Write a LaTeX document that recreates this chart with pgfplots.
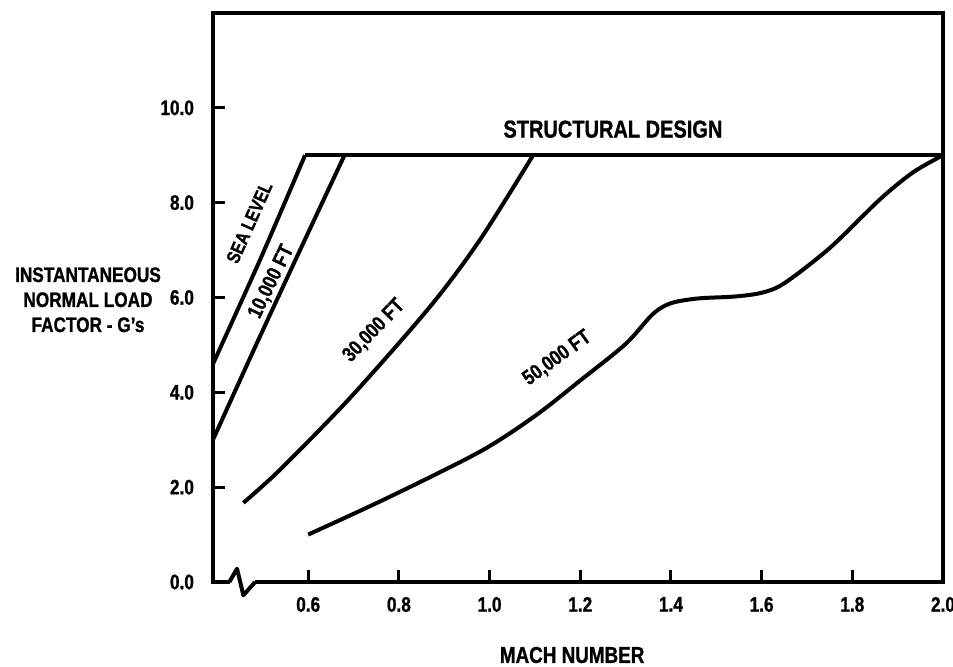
\documentclass[border=0pt]{standalone}
\usepackage{pgfplots}
\pgfplotsset{compat=1.18}
\usepackage{fontspec}
\setmainfont{Liberation Sans}[FakeStretch=0.82, BoldFeatures={FakeBold=1}]

\begin{document}
\begin{tikzpicture}
\begin{axis}[
    width=365pt, height=284.5pt, scale only axis,
    xmin=0.39, xmax=2.0, ymin=0, ymax=12,
    xtick={0.6,0.8,1.0,1.2,1.4,1.6,1.8,2.0},
    ytick={0,2,4,6,8,10},
    tick pos=left, tick align=inside,
    major tick length=6pt,
    tick style={black, line width=1.5pt},
    axis line style={line width=2pt},
    tick label style={font=\bfseries\fontsize{10.5}{10.5}\selectfont},
    yticklabel style={xshift=-6pt},
    xticklabel style={yshift=-4pt},
    /pgf/number format/.cd, fixed, fixed zerofill, precision=1, assume math mode=true,
    /pgfplots/.cd,
    clip=false,
  ]
% axis break on the x axis
\addplot[white, line width=4pt] coordinates {(0.428,0) (0.483,0)};
\addplot[black, line width=2pt, line join=round] coordinates {(0.426,0) (0.443,0.28) (0.457,-0.28) (0.483,0)};

% structural design limit
\addplot[black, line width=2pt] coordinates {(0.593,9.0) (2.0,9.0)};
% sea level
\addplot[black, line width=2pt, smooth] coordinates {(0.39,4.6) (0.494,6.8) (0.593,9.0)};
% 10,000 ft
\addplot[black, line width=2pt, smooth] coordinates {(0.39,3.0) (0.485,5.0) (0.582,7.0) (0.68,9.0)};
% 30,000 ft
\addplot[black, line width=2pt, smooth] coordinates {
  (0.457,1.67) (0.538,2.37) (0.693,3.89) (0.869,5.81) (0.979,7.22) (1.096,9.0)};
% 50,000 ft
\addplot[black, line width=2pt, smooth, tension=0.5] coordinates {
  (0.6,1.0) (0.774,1.77) (0.979,2.75) (1.1,3.5) (1.2,4.25) (1.3,5.02)
  (1.36,5.65) (1.40,5.88) (1.46,5.98) (1.54,6.02) (1.60,6.1) (1.65,6.3)
  (1.751,7.05) (1.861,8.07) (1.934,8.64) (2.0,9.0)};

\node[font=\bfseries\fontsize{12.2}{12.2}\selectfont] at (axis cs:1.272,9.55) {STRUCTURAL DESIGN};
\node[font=\bfseries\fontsize{9.5}{9.5}\selectfont, rotate=66] at (axis cs:0.470,7.58) {SEA LEVEL};
\node[font=\bfseries\fontsize{10.5}{10.5}\selectfont, rotate=64] at (axis cs:0.519,6.33) {10,000 FT};
\node[font=\bfseries\fontsize{10.5}{10.5}\selectfont, rotate=46] at (axis cs:0.745,5.3) {30,000 FT};
\node[font=\bfseries\fontsize{10.5}{10.5}\selectfont, rotate=36] at (axis cs:1.149,4.72) {50,000 FT};

\node[font=\bfseries\fontsize{10.5}{12.5}\selectfont, align=center] at (rel axis cs:0,0.496) [xshift=-62.5pt]
  {INSTANTANEOUS\\NORMAL LOAD\\FACTOR - G's};
\node[font=\bfseries\fontsize{11.5}{11.5}\selectfont] at (rel axis cs:0.492,0) [yshift=-36.5pt] {MACH NUMBER};
\end{axis}
\pgfresetboundingbox
\path ([shift={(-106.5pt,-42.5pt)}]current axis.south west) rectangle ([shift={(5pt,6.5pt)}]current axis.north east);
\end{tikzpicture}
\end{document}
